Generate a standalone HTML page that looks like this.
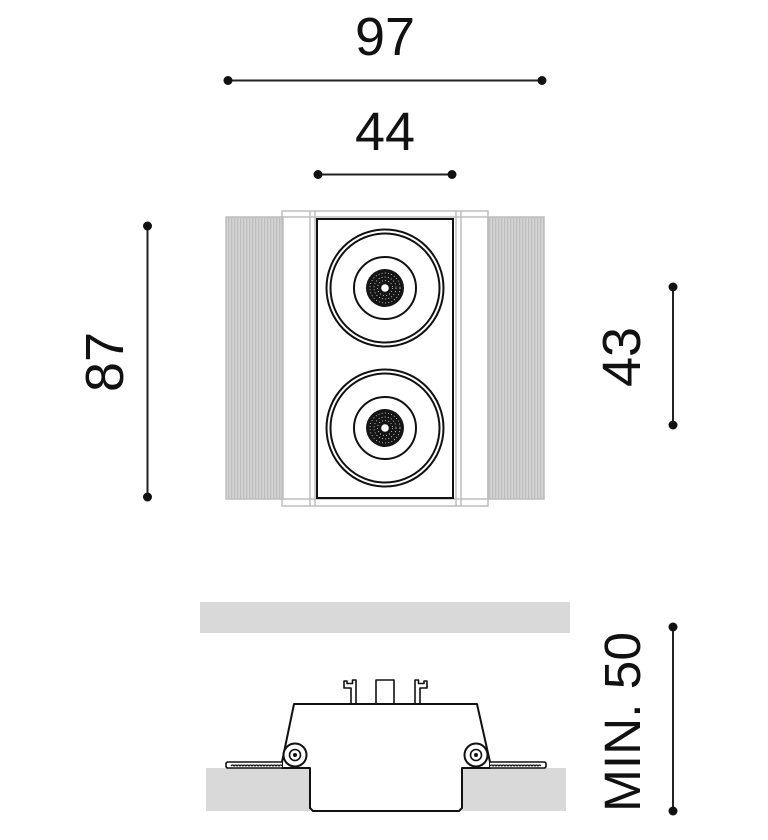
<!DOCTYPE html>
<html>
<head>
<meta charset="utf-8">
<style>
html,body{margin:0;padding:0;background:#fff;}
svg{display:block;}
text{font-family:"Liberation Sans",sans-serif;fill:#111;}
</style>
</head>
<body>
<svg width="768" height="840" viewBox="0 0 768 840" xmlns="http://www.w3.org/2000/svg">
<defs>
<pattern id="fins" x="0" y="0" width="3" height="10" patternUnits="userSpaceOnUse">
<rect x="0" y="0" width="3" height="10" fill="#bfbfbf"/>
<rect x="1.6" y="0" width="1" height="10" fill="#e2e2e2"/>
</pattern>
</defs>

<!-- Dimension 97 -->
<text x="385" y="55" font-size="54" text-anchor="middle">97</text>
<line x1="228" y1="80.5" x2="542" y2="80.5" stroke="#222" stroke-width="2"/>
<circle cx="228" cy="80.5" r="4.5" fill="#111"/>
<circle cx="542" cy="80.5" r="4.5" fill="#111"/>

<!-- Dimension 44 -->
<text x="385" y="150" font-size="54" text-anchor="middle">44</text>
<line x1="318" y1="174.5" x2="452" y2="174.5" stroke="#222" stroke-width="2"/>
<circle cx="318" cy="174.5" r="4.5" fill="#111"/>
<circle cx="452" cy="174.5" r="4.5" fill="#111"/>

<!-- Dimension 87 -->
<text transform="translate(123,362) rotate(-90)" font-size="54" text-anchor="middle">87</text>
<line x1="147.5" y1="226" x2="147.5" y2="497" stroke="#222" stroke-width="2"/>
<circle cx="147.5" cy="226" r="4.5" fill="#111"/>
<circle cx="147.5" cy="497" r="4.5" fill="#111"/>

<!-- Dimension 43 -->
<text transform="translate(640,357) rotate(-90)" font-size="54" text-anchor="middle">43</text>
<line x1="673" y1="287" x2="673" y2="425" stroke="#222" stroke-width="2"/>
<circle cx="673" cy="287" r="4.5" fill="#111"/>
<circle cx="673" cy="425" r="4.5" fill="#111"/>

<!-- Dimension MIN. 50 -->
<text transform="translate(640,722) rotate(-90)" font-size="51" text-anchor="middle" textLength="180" lengthAdjust="spacingAndGlyphs">MIN. 50</text>
<line x1="673" y1="627" x2="673" y2="811" stroke="#222" stroke-width="2"/>
<circle cx="673" cy="627" r="4.5" fill="#111"/>
<circle cx="673" cy="811" r="4.5" fill="#111"/>

<!-- Top view: fins -->
<rect x="226" y="217" width="57" height="282" fill="url(#fins)" stroke="#bdbdbd" stroke-width="1.5"/>
<rect x="488" y="217" width="56" height="282" fill="url(#fins)" stroke="#bdbdbd" stroke-width="1.5"/>

<!-- frame -->
<rect x="282" y="211" width="206" height="295" fill="none" stroke="#bdbdbd" stroke-width="1.5"/>
<line x1="282" y1="217" x2="488" y2="217" stroke="#bdbdbd" stroke-width="1.5"/>
<line x1="282" y1="499" x2="488" y2="499" stroke="#bdbdbd" stroke-width="1.5"/>
<line x1="310" y1="211" x2="310" y2="506" stroke="#bdbdbd" stroke-width="1.5"/>
<line x1="315" y1="211" x2="315" y2="506" stroke="#bdbdbd" stroke-width="1.5"/>
<line x1="456" y1="211" x2="456" y2="506" stroke="#bdbdbd" stroke-width="1.5"/>
<line x1="461" y1="211" x2="461" y2="506" stroke="#bdbdbd" stroke-width="1.5"/>

<!-- main body -->
<rect x="317" y="219" width="136" height="279" fill="#fff" stroke="#111" stroke-width="2"/>

<!-- lens top -->
<g stroke="#111" fill="none" stroke-width="2">
<circle cx="385" cy="288" r="58.5"/>
<circle cx="385" cy="288" r="54.5"/>
<circle cx="385" cy="288" r="31"/>
<circle cx="385" cy="428" r="58.5"/>
<circle cx="385" cy="428" r="54.5"/>
<circle cx="385" cy="428" r="31"/>
</g>
<g>
<circle cx="385" cy="288" r="19" fill="#151515"/>
<circle cx="385" cy="288" r="15" fill="none" stroke="#fff" stroke-width="0.7" stroke-dasharray="1 2.2"/>
<circle cx="385" cy="288" r="11" fill="none" stroke="#fff" stroke-width="0.7" stroke-dasharray="1 2.2"/>
<circle cx="385" cy="288" r="7.5" fill="none" stroke="#fff" stroke-width="0.7" stroke-dasharray="1 2.2"/>
<circle cx="385" cy="288" r="3.8" fill="#fff"/>
<circle cx="385" cy="428" r="19" fill="#151515"/>
<circle cx="385" cy="428" r="15" fill="none" stroke="#fff" stroke-width="0.7" stroke-dasharray="1 2.2"/>
<circle cx="385" cy="428" r="11" fill="none" stroke="#fff" stroke-width="0.7" stroke-dasharray="1 2.2"/>
<circle cx="385" cy="428" r="7.5" fill="none" stroke="#fff" stroke-width="0.7" stroke-dasharray="1 2.2"/>
<circle cx="385" cy="428" r="3.8" fill="#fff"/>
</g>

<!-- Section view -->
<rect x="200" y="602" width="370" height="31" fill="#d9d9d9"/>
<rect x="206" y="768" width="104" height="43" fill="#d9d9d9"/>
<rect x="462" y="768" width="104" height="43" fill="#d9d9d9"/>

<!-- clips and post -->
<g fill="#fff" stroke="#111" stroke-width="1.6" stroke-linejoin="round">
<path d="M351,704 V688 H344 V681 H347 V683.5 H352.5 V680 H356 V704"/>
<path d="M420,704 V688 H427 V681 H424 V683.5 H418.5 V680 H415 V704"/>
<path d="M376,704 V680 H394 V704"/>
</g>

<!-- housing -->
<path d="M294,704 H477 L490,762 V768 H462 V808 L459,811 H313 L310,808 V768 H282 V762 Z" fill="#fff" stroke="#111" stroke-width="2" stroke-linejoin="round"/>

<!-- flanges -->
<g fill="#fff" stroke="#111" stroke-width="1.6">
<path d="M282,762 H228 Q226,762 226,764 V766 Q226,768 228,768 H282"/>
<path d="M490,762 H544 Q546,762 546,764 V766 Q546,768 544,768 H490"/>
</g>
<g fill="none" stroke="#111" stroke-width="1.2">
<path d="M231,766 q1.5,-2 3,0 q1.5,-2 3,0 q1.5,-2 3,0 q1.5,-2 3,0 q1.5,-2 3,0 q1.5,-2 3,0 q1.5,-2 3,0 q1.5,-2 3,0 q1.5,-2 3,0 q1.5,-2 3,0 q1.5,-2 3,0 q1.5,-2 3,0 q1.5,-2 3,0 q1.5,-2 3,0 q1.5,-2 3,0 q1.5,-2 3,0 q1.5,-2 3,0"/>
<path d="M490,766 q1.5,-2 3,0 q1.5,-2 3,0 q1.5,-2 3,0 q1.5,-2 3,0 q1.5,-2 3,0 q1.5,-2 3,0 q1.5,-2 3,0 q1.5,-2 3,0 q1.5,-2 3,0 q1.5,-2 3,0 q1.5,-2 3,0 q1.5,-2 3,0 q1.5,-2 3,0 q1.5,-2 3,0 q1.5,-2 3,0 q1.5,-2 3,0 q1.5,-2 3,0"/>
</g>

<!-- screws -->
<g stroke="#111" fill="#fff">
<circle cx="295" cy="755" r="11.5" stroke-width="2"/>
<circle cx="295" cy="755" r="5.5" stroke-width="1.6"/>
<circle cx="295" cy="755" r="2" fill="#111" stroke="none"/>
<circle cx="476" cy="755" r="11.5" stroke-width="2"/>
<circle cx="476" cy="755" r="5.5" stroke-width="1.6"/>
<circle cx="476" cy="755" r="2" fill="#111" stroke="none"/>
</g>
</svg>
</body>
</html>
